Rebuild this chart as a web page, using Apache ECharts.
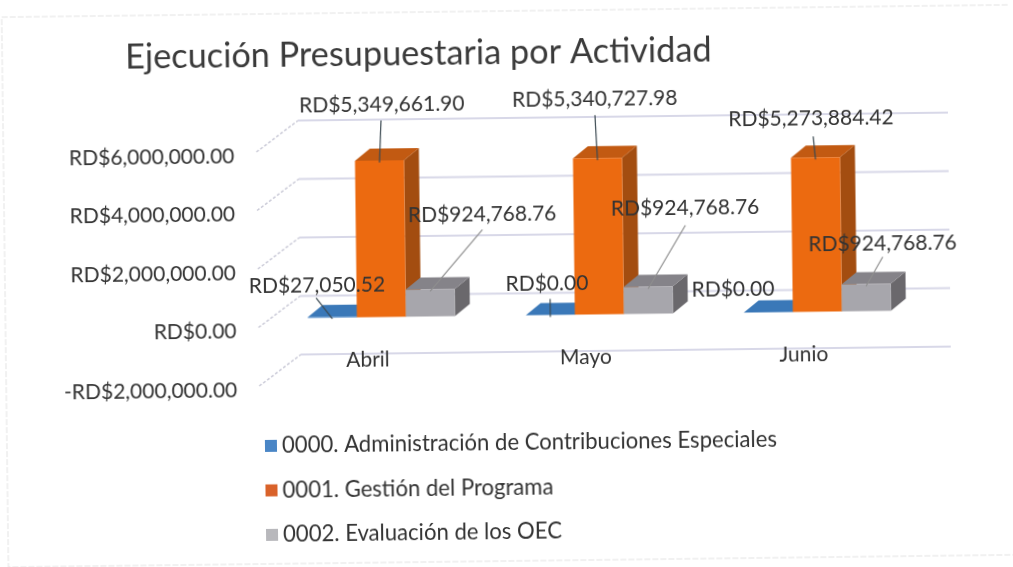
<!DOCTYPE html>
<html>
<head>
<meta charset="utf-8">
<title>Ejecución Presupuestaria por Actividad</title>
<script src="https://cdn.jsdelivr.net/npm/echarts@6/dist/echarts.min.js"></script>
<style>
  html, body { margin: 0; background: #fff; overflow: hidden; }
  /* the reference is a slightly crooked scan */
  #main { width: 1013px; height: 567px; transform: rotate(-0.7deg); filter: blur(0.4px); }
</style>
</head>
<body>
<div id="main"></div>
<script>
var categories = ['Abril', 'Mayo', 'Junio'];
var seriesNames = [
  '0000. Administración de Contribuciones Especiales',
  '0001. Gestión del Programa',
  '0002. Evaluación de los OEC'
];
var adminValues = [27050.52, 0, 0];
var gestionValues = [5349661.90, 5340727.98, 5273884.42];
var evaluacionValues = [924768.76, 924768.76, 924768.76];
var axisTicks = [-2000000, 0, 2000000, 4000000, 6000000];

// fake 3D, in px. the grid sits 4px under the wall lines so tick labels hang low like the reference
var wallFront = -4;
var wallDepth = [42, -31];
var barStart = [14, -13];
var barEnd = [29, -25];

// where each data label sits, from the top centre of the bar's front face
var labelOffsets = [
  [[-15, -31], [-3, -31], [-35, -23]],
  [[3, -56], [-2, -59], [-4, -39]],
  [[53, -74], [38, -78], [17, -40]]
];
var leaderEnds = [
  [[-16, -19], [0, -16], [0, 0]],
  [[2, -40], [-2, -43], [-2, -21]],
  [[53, -59], [38, -61], [17, -27]]
];

var faces = [
  { front: '#3f7fc4', top: '#3a78b8', side: '#2f6498', legend: '#4a86c6' },
  { front: '#ec6a10', top: '#c25a12', side: '#a34d10', legend: '#d9622a' },
  { front: '#a7a6ac', top: '#858389', side: '#6a686c', legend: '#b8b8bc' }
];

function money(v) {
  var s = Math.abs(v).toLocaleString('en-US', { minimumFractionDigits: 2, maximumFractionDigits: 2 });
  return (v < 0 ? '-' : '') + 'RD$' + s;
}

function poly(points, color, z) {
  return { type: 'polygon', z2: z, shape: { points: points }, style: { fill: color } };
}

var renderWalls = function (params, api) {
  var y = api.coord([0, api.value(1)])[1] + wallFront;
  var x = params.coordSys.x;
  var xRight = x + params.coordSys.width;
  return {
    type: 'group',
    children: [
      { type: 'line', shape: { x1: x, y1: y, x2: x + wallDepth[0], y2: y + wallDepth[1] },
        style: { stroke: '#cbcbd8', lineWidth: 1.5, lineDash: [3, 2] } },
      { type: 'line', shape: { x1: x + wallDepth[0], y1: y + wallDepth[1], x2: xRight + wallDepth[0] - 4, y2: y + wallDepth[1] },
        style: { stroke: '#d8d8e8', lineWidth: 2 } }
    ]
  };
};

function makeBoxRenderer(slot) {
  return function (params, api) {
    var i = api.value(0);
    var v = api.value(1);
    var c = faces[slot];
    var band = api.size([1, 0])[0];
    var w = band * 0.225;
    var x0 = api.coord([i, 0])[0] + (slot - 1) * w - w / 2;
    var x1 = x0 + w;
    var yBase = api.coord([i, 0])[1];
    var yTop = api.coord([i, v])[1];
    var fl = [x0 + barStart[0], yBase + barStart[1]];
    var fr = [x1 + barStart[0], yBase + barStart[1]];
    var tl = [x0 + barStart[0], yTop + barStart[1]];
    var tr = [x1 + barStart[0], yTop + barStart[1]];
    var btl = [x0 + barEnd[0], yTop + barEnd[1]];
    var btr = [x1 + barEnd[0], yTop + barEnd[1]];
    var bbr = [x1 + barEnd[0], yBase + barEnd[1]];
    var mx = (tl[0] + tr[0]) / 2;
    var my = tl[1];
    var end = leaderEnds[slot][i];
    var kids = [
      poly([tr, btr, bbr, fr], c.side, 1),
      poly([tl, btl, btr, tr], c.top, 1),
      poly([fl, fr, tr, tl], c.front, 2)
    ];
    if (end[0] || end[1]) {
      kids.push({ type: 'line', z2: 30, shape: { x1: mx, y1: my + 2, x2: mx + end[0], y2: my + end[1] },
        style: { stroke: slot === 2 ? '#8e8e8e' : '#3c4a52', lineWidth: 1.2 } });
    }
    return { type: 'group', children: kids };
  };
}

function makeLabelRenderer(slot) {
  return function (params, api) {
    var i = api.value(0);
    var v = api.value(1);
    var band = api.size([1, 0])[0];
    var w = band * 0.225;
    var off = labelOffsets[slot][i];
    var mx = api.coord([i, 0])[0] + (slot - 1) * w + barStart[0];
    var my = api.coord([i, v])[1] + barStart[1];
    return {
      type: 'text', z2: 40,
      style: {
        text: money(v), x: mx + off[0], y: my + off[1],
        align: 'center', verticalAlign: 'middle',
        fill: '#333', font: '21px Lato'
      }
    };
  };
}

function pairs(values) {
  return values.map(function (v, i) { return [i, v]; });
}

var valueSets = [adminValues, gestionValues, evaluacionValues];
var series = [{
  type: 'custom', name: 'walls', z: 0, silent: true,
  renderItem: renderWalls,
  data: axisTicks.map(function (t) { return [0, t]; })
}];
valueSets.forEach(function (values, slot) {
  series.push({
    type: 'custom', name: seriesNames[slot], z: 2 + slot,
    itemStyle: { color: faces[slot].front },
    renderItem: makeBoxRenderer(slot),
    data: pairs(values)
  });
});
valueSets.forEach(function (values, slot) {
  series.push({
    type: 'custom', name: seriesNames[slot] + ' etiqueta', z: 10, silent: true,
    renderItem: makeLabelRenderer(slot),
    data: pairs(values)
  });
});

var option = {
  animation: false,
  backgroundColor: '#fff',
  title: {
    text: 'Ejecución Presupuestaria por Actividad',
    left: 123, top: 31,
    textStyle: { fontFamily: 'Lato', fontSize: 34.3, fontWeight: 'normal', color: '#3a3a3a' }
  },
  grid: { left: 258, right: 101, top: 153, bottom: 180 },
  xAxis: {
    type: 'category',
    z: 6,
    data: categories,
    axisLine: { show: false },
    axisTick: { show: false },
    axisLabel: { margin: -39, fontFamily: 'Lato', fontSize: 21, color: '#333' }
  },
  yAxis: {
    type: 'value',
    min: -2000000, max: 6000000, interval: 2000000,
    axisLine: { show: false },
    axisTick: { show: false },
    splitLine: { show: false },
    axisLabel: {
      margin: 22, fontFamily: 'Lato', fontSize: 21, color: '#333',
      formatter: money
    }
  },
  legend: {
    orient: 'vertical',
    left: 258, top: 427,
    itemWidth: 12, itemHeight: 12, itemGap: 22.5,
    icon: 'rect',
    data: seriesNames.map(function (n, k) {
      return { name: n, itemStyle: { color: faces[k].legend } };
    }),
    textStyle: { fontFamily: 'Lato', fontSize: 22.1, color: '#333' }
  },
  graphic: [{
    type: 'rect', silent: true, z: -1,
    shape: { x: 5, y: 11, width: 1030, height: 550 },
    style: { fill: 'none', stroke: '#e3e3e3', lineWidth: 1, lineDash: [6, 2] }
  }],
  series: series
};

var myChart = echarts.init(document.getElementById('main'));
myChart.setOption(option);
</script>
</body>
</html>
